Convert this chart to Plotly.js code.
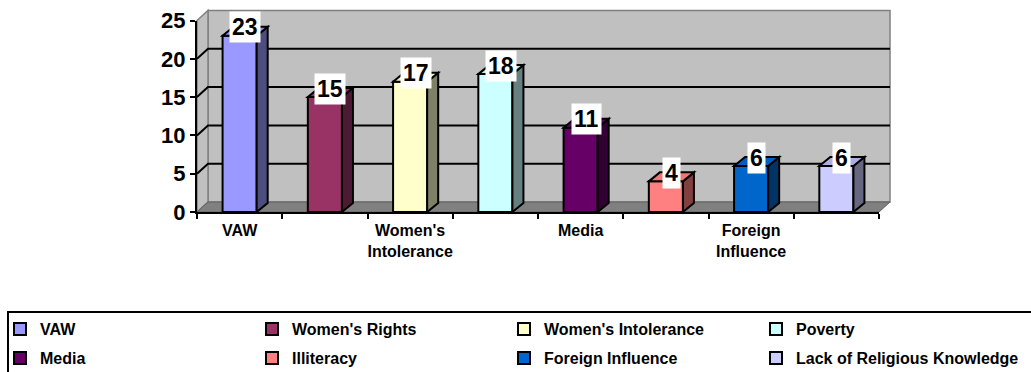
<!DOCTYPE html>
<html><head><meta charset="utf-8">
<script src="https://cdn.plot.ly/plotly-3.0.1.min.js"></script>
<style>html,body{margin:0;padding:0;background:#fff}</style>
</head><body>
<div id="chart" style="width:1031px;height:372px"></div>
<script>
// ---- data ----
const categories = ['VAW', "Women's Rights", "Women's Intolerance", 'Poverty', 'Media', 'Illiteracy', 'Foreign Influence', 'Lack of Religious Knowledge'];
const values = [23, 15, 17, 18, 11, 4, 6, 6];
const axisLabelIndex = [0, 2, 4, 6];
const axisLabels = ['VAW', "Women's<br>Intolerance", 'Media', 'Foreign<br>Influence'];
const yTicks = [0, 5, 10, 15, 20, 25];
const frontColors = ['#9999FF', '#993366', '#FFFFCC', '#CCFFFF', '#660066', '#FF8080', '#0066CC', '#CCCCFF'];
const sideColors = ['#4D4D80', '#4D1A33', '#808066', '#668080', '#330033', '#804040', '#003366', '#666680'];
const topColors = ['#8F8FEE', '#8F305F', '#EEEEBE', '#BEEEEE', '#5F005F', '#EE7878', '#005FBE', '#ADADE0'];

// ---- geometry (px) ----
const W = 1031, H = 372;
const FRONT = {l: 197, r: 879, b: 212, t: 20.5};
const WALL = {dx: 11, dy: 10};
const BAR = {w: 0.4, dx: 11, dy: 9};
const FONT = '"Liberation Sans", Arial, Helvetica, sans-serif';
const YMAX = 25;
const LEGEND_ROWS = [{top: 312, legend: 'legend'}, {top: 341, legend: 'legend2'}];
const LEGEND_COL_W = [207, 207, 207, 226];
const px = x => x / W, py = y => 1 - y / H;
const xPerPx = categories.length / (FRONT.r - FRONT.l);
const yPerPx = YMAX / (FRONT.b - FRONT.t);
const ddx = BAR.dx * xPerPx, ddy = BAR.dy * yPerPx;
const yPix = v => FRONT.b - v / yPerPx;

function poly(pts) {
  return 'M' + pts.map(p => p[0] + ',' + p[1]).join('L') + 'Z';
}
function ppoly(pts) { return poly(pts.map(p => [px(p[0]), py(p[1])])); }

const shapes = [];
// back wall
shapes.push({type: 'rect', xref: 'paper', yref: 'paper', layer: 'below',
  x0: px(FRONT.l + WALL.dx), x1: px(FRONT.r + WALL.dx), y0: py(FRONT.b - WALL.dy), y1: py(FRONT.t - WALL.dy),
  fillcolor: '#C0C0C0', line: {color: '#808080', width: 1.5}});
// side wall
shapes.push({type: 'path', xref: 'paper', yref: 'paper', layer: 'below',
  path: ppoly([[FRONT.l, FRONT.t], [FRONT.l + WALL.dx, FRONT.t - WALL.dy], [FRONT.l + WALL.dx, FRONT.b - WALL.dy], [FRONT.l, FRONT.b]]),
  fillcolor: '#C0C0C0', line: {color: '#808080', width: 1.5}});
// floor
shapes.push({type: 'path', xref: 'paper', yref: 'paper', layer: 'below',
  path: ppoly([[FRONT.l, FRONT.b], [FRONT.r, FRONT.b], [FRONT.r + WALL.dx, FRONT.b - WALL.dy], [FRONT.l + WALL.dx, FRONT.b - WALL.dy]]),
  fillcolor: '#808080', line: {color: '#606060', width: 1}});
// gridlines on side wall and back wall
yTicks.filter(t => t > 0 && t < YMAX).forEach(t => {
  const yf = yPix(t), yb = yPix(t) - WALL.dy;
  shapes.push({type: 'path', xref: 'paper', yref: 'paper', layer: 'below',
    path: 'M' + px(FRONT.l) + ',' + py(yf) + 'L' + px(FRONT.l + WALL.dx) + ',' + py(yb) + 'L' + px(FRONT.r + WALL.dx) + ',' + py(yb),
    line: {color: '#000', width: 2}});
});
// legend frame
shapes.push({type: 'rect', xref: 'paper', yref: 'paper', layer: 'below',
  x0: px(8), x1: px(1040), y0: py(312), y1: py(380), fillcolor: 'rgba(0,0,0,0)', line: {color: '#000', width: 2}});

// 3D faces of each bar
values.forEach((v, i) => {
  const xr = i + BAR.w / 2, xl = i - BAR.w / 2;
  shapes.push({type: 'path', xref: 'x', yref: 'y', layer: 'above',
    path: poly([[xr, 0], [xr + ddx, ddy], [xr + ddx, v + ddy], [xr, v]]),
    fillcolor: sideColors[i], line: {color: '#000', width: 2}});
  shapes.push({type: 'path', xref: 'x', yref: 'y', layer: 'above',
    path: poly([[xl, v], [xr, v], [xr + ddx, v + ddy], [xl + ddx, v + ddy]]),
    fillcolor: topColors[i], line: {color: '#000', width: 2}});
});

const perRow = categories.length / LEGEND_ROWS.length;
const traces = categories.map((c, i) => ({
  type: 'bar', name: c, x: [i], y: [values[i]],
  legend: LEGEND_ROWS[Math.floor(i / perRow)].legend,
  legendwidth: LEGEND_COL_W[i % perRow],
  width: BAR.w, marker: {color: frontColors[i], line: {color: '#000', width: 2}},
  hoverinfo: 'skip'
}));

const annotations = values.map((v, i) => ({
  xref: 'x', yref: 'y', x: i + ddx / 2, y: v + ddy / 2, yshift: 4,
  text: String(v), showarrow: false, bgcolor: '#fff', borderpad: 2,
  font: {family: FONT, size: 23, weight: 700, color: '#000'}
}));

function legendCfg(top) {
  return {orientation: 'h', x: 0, y: py(top), xanchor: 'left', yanchor: 'top',
    entrywidthmode: 'pixels', bgcolor: 'rgba(0,0,0,0)', borderwidth: 0,
    font: {family: FONT, size: 16, weight: 700, color: '#000'}};
}

const layout = {
  width: W, height: H,
  margin: {l: 0, r: 0, t: 0, b: 0, autoexpand: false},
  paper_bgcolor: '#fff', plot_bgcolor: 'rgba(0,0,0,0)',
  barmode: 'overlay', showlegend: true,
  font: {family: FONT, color: '#000'},
  xaxis: {domain: [px(FRONT.l), px(FRONT.r)], anchor: 'y', range: [-0.5, categories.length - 0.5],
    tickmode: 'array', tickvals: axisLabelIndex, ticktext: axisLabels, ticks: '', ticklabelstandoff: 3,
    tickfont: {family: FONT, size: 16, weight: 700, color: '#000'},
    minor: {tickmode: 'linear', tick0: -0.5, dtick: 1, ticks: 'outside', ticklen: 5, tickwidth: 2, tickcolor: '#000', showgrid: false},
    showgrid: false, zeroline: false, showline: true, linecolor: '#000', linewidth: 2, fixedrange: true},
  yaxis: {domain: [py(FRONT.b), py(FRONT.t)], anchor: 'x', range: [0, YMAX],
    tickmode: 'array', tickvals: yTicks, ticks: 'outside', ticklen: 5, tickwidth: 2, tickcolor: '#000',
    tickfont: {family: FONT, size: 22, weight: 700, color: '#000'},
    showgrid: false, zeroline: false, showline: true, linecolor: '#000', linewidth: 2, fixedrange: true},
  legend: legendCfg(LEGEND_ROWS[0].top),
  legend2: legendCfg(LEGEND_ROWS[1].top),
  shapes: shapes,
  annotations: annotations
};

Plotly.newPlot('chart', traces, layout, {displayModeBar: false, staticPlot: true});
</script>
</body></html>
